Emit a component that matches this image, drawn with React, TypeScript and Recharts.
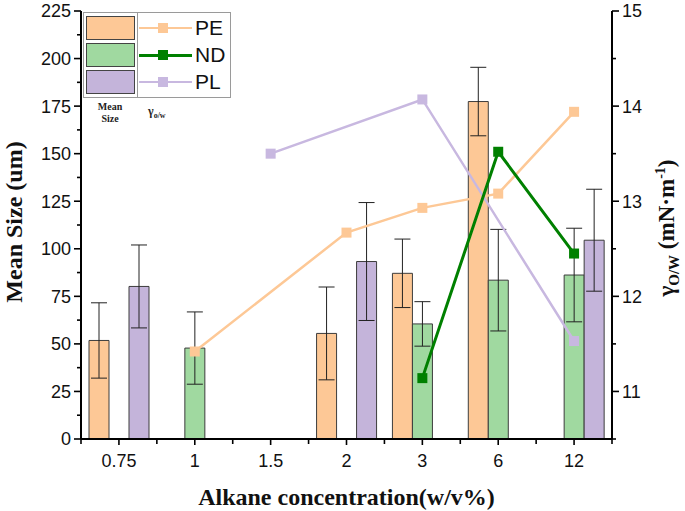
import React from "react";
import { ComposedChart, Bar, Line, XAxis, YAxis, ErrorBar } from "recharts";

const categories = ["0.75", "1", "1.5", "2", "3", "6", "12"];

// mean size (um), left axis
const peSize = [51.8, null, null, 55.5, 87.1, 177.4, null];
const peSizeErr = [19.8, null, null, 24.4, 18, 18, null];
const ndSize = [null, 47.8, null, null, 60.5, 83.5, 86.2];
const ndSizeErr = [null, 19, null, null, 11.7, 26.7, 24.6];
const plSize = [80.2, null, null, 93.3, null, null, 104.5];
const plSizeErr = [21.8, null, null, 31, null, null, 26.8];

// interfacial tension (mN/m), right axis
const peTension = [null, 11.42, null, 12.67, 12.93, 13.08, 13.94];
const ndTension = [null, null, null, null, 11.14, 13.52, 12.45];
const plTension = [null, null, 13.5, null, 14.07, null, 11.53];

const sizeTicks = [0, 12.5, 25, 37.5, 50, 62.5, 75, 87.5, 100, 112.5, 125, 137.5, 150, 162.5, 175, 187.5, 200, 212.5, 225];
const tensionTicks = [10.5, 11, 11.5, 12, 12.5, 13, 13.5, 14, 14.5, 15];

const COLORS = {
  peBar: "#FDC896",
  ndBar: "#A0D9A0",
  plBar: "#C4B4DA",
  peLine: "#FDC896",
  ndLine: "#008000",
  plLine: "#C8B8E0",
};

const data = categories.map((cat, i) => ({
  cat,
  pe: peSize[i],
  peErr: peSizeErr[i],
  nd: ndSize[i],
  ndErr: ndSizeErr[i],
  pl: plSize[i],
  plErr: plSizeErr[i],
  peT: peTension[i],
  ndT: ndTension[i],
  plT: plTension[i],
}));

const tickFont = { fontFamily: "'Liberation Sans', Arial, sans-serif", fontSize: 18, fill: "#111" };
const serif = "'Liberation Serif', 'Times New Roman', serif";

const LeftTick = (props: any) => {
  const { x, y, payload } = props;
  const major = payload.value % 25 === 0;
  return (
    <g>
      <line x1={x - (major ? 7 : 4)} x2={x} y1={y} y2={y} stroke="#000" strokeWidth={1.6} />
      {major && (
        <text x={x - 10} y={y} dy="0.36em" textAnchor="end" {...tickFont}>
          {payload.value}
        </text>
      )}
    </g>
  );
};

const RightTick = (props: any) => {
  const { x, y, payload } = props;
  const major = Number.isInteger(payload.value);
  return (
    <g>
      <line x1={x} x2={x + (major ? 7 : 4)} y1={y} y2={y} stroke="#000" strokeWidth={1.6} />
      {major && (
        <text x={x + 10} y={y} dy="0.36em" textAnchor="start" {...tickFont}>
          {payload.value}
        </text>
      )}
    </g>
  );
};

// category ticks at band centres, minor ticks at band edges (payload.offset = half band)
const BottomTick = (props: any) => {
  const { x, y, payload, index, visibleTicksCount } = props;
  const half = payload.offset || 0;
  return (
    <g>
      <line x1={x} x2={x} y1={y} y2={y + 6} stroke="#000" strokeWidth={1.6} />
      {half > 0 && <line x1={x - half} x2={x - half} y1={y} y2={y + 5} stroke="#000" strokeWidth={1.6} />}
      {half > 0 && index === visibleTicksCount - 1 && (
        <line x1={x + half} x2={x + half} y1={y} y2={y + 5} stroke="#000" strokeWidth={1.6} />
      )}
      <text x={x} y={y + 22} dy="0.36em" textAnchor="middle" {...tickFont}>
        {payload.value}
      </text>
    </g>
  );
};

const TopTick = (props: any) => {
  const { x, y, payload, index, visibleTicksCount } = props;
  const half = payload.offset || 0;
  return (
    <g>
      <line x1={x} x2={x} y1={y} y2={y + 4} stroke="#000" strokeWidth={1.6} />
      {half > 0 && <line x1={x - half} x2={x - half} y1={y} y2={y + 4} stroke="#000" strokeWidth={1.6} />}
      {half > 0 && index === visibleTicksCount - 1 && (
        <line x1={x + half} x2={x + half} y1={y} y2={y + 4} stroke="#000" strokeWidth={1.6} />
      )}
    </g>
  );
};

const squareDot = (color: string) => (p: any) => {
  if (p.cx == null || p.cy == null || p.value == null) return <g key={p.key ?? p.index} />;
  return <rect key={p.key ?? p.index} x={p.cx - 5} y={p.cy - 5} width={10} height={10} fill={color} />;
};

const legendRows = [
  { name: "PE", bar: COLORS.peBar, line: COLORS.peLine, cy: 28, lw: 2.5 },
  { name: "ND", bar: COLORS.ndBar, line: COLORS.ndLine, cy: 55, lw: 3 },
  { name: "PL", bar: COLORS.plBar, line: COLORS.plLine, cy: 82, lw: 2.5 },
];

function ChartLegend() {
  return (
    <>
      <div style={{ position: "absolute", left: 83, top: 12, width: 55, height: 86, boxSizing: "border-box", border: "1px solid #9a9a9a", background: "#fff" }} />
      <div style={{ position: "absolute", left: 137, top: 12, width: 94, height: 86, boxSizing: "border-box", border: "1px solid #9a9a9a", background: "#fff" }} />
      {legendRows.map((r) => (
        <React.Fragment key={r.name}>
          <div style={{ position: "absolute", left: 86, top: r.cy - 12, width: 49, height: 24, boxSizing: "border-box", border: "1.5px solid #444", background: r.bar }} />
          <div style={{ position: "absolute", left: 139, top: r.cy - r.lw / 2, width: 53, height: r.lw, background: r.line }} />
          <div style={{ position: "absolute", left: 158, top: r.cy - 5, width: 10, height: 10, background: r.line }} />
          <div style={{ position: "absolute", left: 195, top: r.cy - 12, height: 24, lineHeight: "24px", fontFamily: "'Liberation Sans', Arial, sans-serif", fontSize: 21, color: "#111" }}>
            {r.name}
          </div>
        </React.Fragment>
      ))}
      <div style={{ position: "absolute", left: 85, top: 101, width: 50, textAlign: "center", fontFamily: serif, fontWeight: "bold", fontSize: 10, lineHeight: "12px", color: "#222" }}>
        Mean
        <br />
        Size
      </div>
      <div style={{ position: "absolute", left: 148, top: 104, fontFamily: serif, fontWeight: "bold", fontSize: 12, color: "#222" }}>
        γ<sub style={{ fontSize: 8 }}>o/w</sub>
      </div>
    </>
  );
}

export default function App() {
  return (
    <div style={{ position: "absolute", left: 0, top: 0, width: 685, height: 511, background: "#fff" }}>
      <ComposedChart
        width={685}
        height={511}
        data={data}
        margin={{ top: 11, right: 0, bottom: 0, left: 0 }}
        barSize={20}
        barGap={0}
      >
        <XAxis
          dataKey="cat"
          xAxisId={0}
          height={72}
          interval={0}
          tickSize={0}
          tickMargin={0}
          tickLine={false}
          tick={<BottomTick />}
          axisLine={{ stroke: "#000", strokeWidth: 2 }}
        />
        <XAxis
          dataKey="cat"
          xAxisId="top"
          orientation="top"
          height={0}
          interval={0}
          tickSize={0}
          tickMargin={0}
          tickLine={false}
          tick={<TopTick />}
          axisLine={{ stroke: "#000", strokeWidth: 2 }}
        />
        <YAxis
          yAxisId="left"
          width={81}
          domain={[0, 225]}
          ticks={sizeTicks}
          interval={0}
          tickSize={0}
          tickMargin={0}
          tickLine={false}
          tick={<LeftTick />}
          axisLine={{ stroke: "#000", strokeWidth: 2 }}
        />
        <YAxis
          yAxisId="right"
          orientation="right"
          width={73}
          domain={[10.5, 15]}
          ticks={tensionTicks}
          interval={0}
          allowDataOverflow
          tickSize={0}
          tickMargin={0}
          tickLine={false}
          tick={<RightTick />}
          axisLine={{ stroke: "#000", strokeWidth: 2 }}
        />
        <Bar yAxisId="left" dataKey="pe" fill={COLORS.peBar} stroke="#3c3c3c" strokeWidth={1} isAnimationActive={false}>
          <ErrorBar dataKey="peErr" width={8} stroke="#222" strokeWidth={1} />
        </Bar>
        <Bar yAxisId="left" dataKey="nd" fill={COLORS.ndBar} stroke="#3c3c3c" strokeWidth={1} isAnimationActive={false}>
          <ErrorBar dataKey="ndErr" width={8} stroke="#222" strokeWidth={1} />
        </Bar>
        <Bar yAxisId="left" dataKey="pl" fill={COLORS.plBar} stroke="#3c3c3c" strokeWidth={1} isAnimationActive={false}>
          <ErrorBar dataKey="plErr" width={8} stroke="#222" strokeWidth={1} />
        </Bar>
        <Line yAxisId="right" dataKey="peT" stroke={COLORS.peLine} strokeWidth={2.5} connectNulls dot={squareDot(COLORS.peLine)} activeDot={false} isAnimationActive={false} />
        <Line yAxisId="right" dataKey="plT" stroke={COLORS.plLine} strokeWidth={2.5} connectNulls dot={squareDot(COLORS.plLine)} activeDot={false} isAnimationActive={false} />
        <Line yAxisId="right" dataKey="ndT" stroke={COLORS.ndLine} strokeWidth={3} connectNulls dot={squareDot(COLORS.ndLine)} activeDot={false} isAnimationActive={false} />
      </ComposedChart>

      <ChartLegend />

      <div style={{ position: "absolute", left: 0, top: 483, width: 693, textAlign: "center", fontFamily: serif, fontWeight: "bold", fontSize: 24, lineHeight: "28px", color: "#111" }}>
        Alkane concentration(w/v%)
      </div>
      <div style={{ position: "absolute", left: 14, top: 222, transform: "translate(-50%, -50%) rotate(-90deg)", whiteSpace: "nowrap", fontFamily: serif, fontWeight: "bold", fontSize: 24, color: "#111" }}>
        Mean Size (um)
      </div>
      <div style={{ position: "absolute", left: 668, top: 228, transform: "translate(-50%, -50%) rotate(-90deg)", whiteSpace: "nowrap", fontFamily: serif, fontWeight: "bold", fontSize: 23, color: "#111" }}>
        γ<sub style={{ fontSize: 15 }}>O/W</sub> (mN·m<sup style={{ fontSize: 14 }}>-1</sup>)
      </div>
    </div>
  );
}
